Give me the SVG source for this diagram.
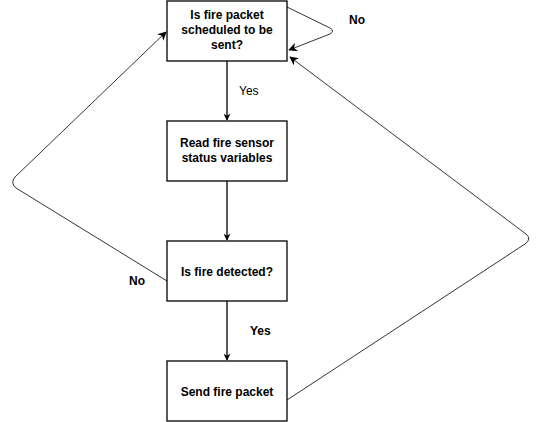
<svg xmlns="http://www.w3.org/2000/svg" width="546" height="422" viewBox="0 0 546 422">
<style>
.box{fill:#fff;stroke:#000;stroke-width:1.3}
.t{font-family:"Liberation Sans",Arial,sans-serif;font-size:12px;font-weight:bold;text-anchor:middle;fill:#000}
.l{font-family:"Liberation Sans",Arial,sans-serif;font-size:12px;fill:#000}
.c{fill:none;stroke:#000;stroke-width:1.3}
.thin{fill:none;stroke:#000;stroke-width:0.8}
</style>
<defs>
<marker id="a" viewBox="0 0 10 10" refX="9" refY="5" markerWidth="7" markerHeight="7" markerUnits="userSpaceOnUse" orient="auto">
<path d="M0,0 L10,5 L0,10 L3,5 Z" fill="#000"/>
</marker>
<marker id="b" viewBox="0 0 10 10" refX="9" refY="5" markerWidth="9" markerHeight="9" markerUnits="userSpaceOnUse" orient="auto">
<path d="M0,0 L10,5 L0,10 L3,5 Z" fill="#000"/>
</marker>
</defs>
<rect width="546" height="422" fill="#fff"/>
<g id="connectors">
<path class="c" d="M227,61 V120" marker-end="url(#a)"/>
<path class="c" d="M227,181 V240" marker-end="url(#a)"/>
<path class="c" d="M227,301 V360" marker-end="url(#a)"/>
<path class="thin" d="M287,7 L330,28 Q335,31 330,34 L289,50" marker-end="url(#b)"/>
<path class="thin" d="M287,400 L525,244 Q532,239 526,234 L290,57" marker-end="url(#b)"/>
<path class="thin" d="M167,281 L16,188 Q10,183 15,177 L166,32" marker-end="url(#b)"/>
<text class="l" x="239" y="95">Yes</text>
<text class="t" x="250" y="335" text-anchor="start" style="text-anchor:start">Yes</text>
<text class="t" x="137" y="285">No</text>
<text class="t" x="357" y="24">No</text>
</g>
<g id="n1">
<rect class="box" x="167" y="1" width="120" height="60"/>
<text class="t" x="227" y="19">Is fire packet</text>
<text class="t" x="227" y="34">scheduled to be</text>
<text class="t" x="227" y="49">sent?</text>
</g>
<g id="n2">
<rect class="box" x="167" y="121" width="120" height="60"/>
<text class="t" x="227" y="147">Read fire sensor</text>
<text class="t" x="227" y="162">status variables</text>
</g>
<g id="n3">
<rect class="box" x="167" y="241" width="120" height="60"/>
<text class="t" x="227" y="276">Is fire detected?</text>
</g>
<g id="n4">
<rect class="box" x="167" y="361" width="120" height="60"/>
<text class="t" x="227" y="396">Send fire packet</text>
</g>
</svg>
